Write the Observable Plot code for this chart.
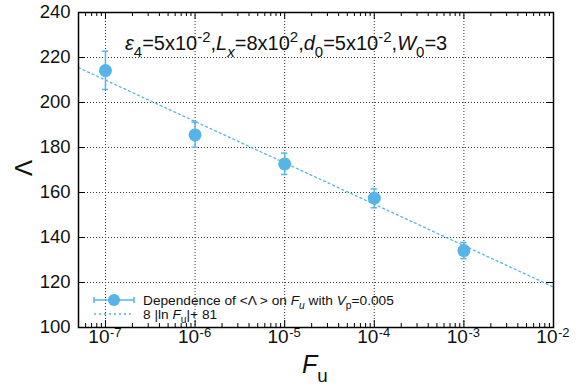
<!DOCTYPE html>
<html>
<head>
<meta charset="utf-8">
<script src="https://cdn.jsdelivr.net/npm/d3@7"></script>
<script src="https://cdn.jsdelivr.net/npm/@observablehq/plot@0.6"></script>
<style>
  html, body { margin: 0; padding: 0; background: white; }
  #chart { width: 582px; height: 387px; }
</style>
</head>
<body>
<div id="chart"></div>
<script>
// ---- data ----
const Fu = [1e-7, 1e-6, 1e-5, 1e-4, 1e-3];
const lambdaMean = [214.2, 185.6, 172.7, 157.5, 134.2];
const lambdaLow = [205.8, 180.1, 168.0, 153.2, 130.6];
const lambdaHigh = [222.8, 191.3, 177.5, 161.6, 137.8];
// fitted line 8|ln Fu| + 81, endpoints
const fitFu = [5e-8, 1e-2];
const fitLambda = [215.5, 118.0];
// axis ticks
const xMajor = [1e-7, 1e-6, 1e-5, 1e-4, 1e-3, 1e-2];
const xExp = ["-7", "-6", "-5", "-4", "-3", "-2"];
const yTicks = [100, 120, 140, 160, 180, 200, 220, 240];

const blue = "#56b4e9";
const data = Fu.map((f, i) => ({Fu: f, y: lambdaMean[i], lo: lambdaLow[i], hi: lambdaHigh[i]}));
const fit = fitFu.map((f, i) => ({Fu: f, y: fitLambda[i]}));
const xMinor = [];
for (let e = -8; e < -2; e++) for (let m = 2; m <= 9; m++) {
  const v = m * Math.pow(10, e);
  if (v >= 5e-8 && v <= 1e-2) xMinor.push(v);
}
const xTickData = xMajor.map((v, i) => ({v, e: xExp[i]}));

const W = 582, H = 387, mL = 78, mR = 29, mT = 12, mB = 60;
const fw = W - mL - mR, fh = H - mT - mB;
const capF = Math.pow(10, 0.035);
const FONT = "'Liberation Sans', Arial, sans-serif";

const plot = Plot.plot({
  width: W, height: H,
  marginLeft: mL, marginRight: mR, marginTop: mT, marginBottom: mB,
  style: {fontFamily: FONT, background: "white", color: "black"},
  x: {type: "log", domain: [5e-8, 1e-2], axis: null},
  y: {domain: [100, 240], axis: null},
  marks: [
    // grid
    Plot.ruleX(xMajor.filter(v => v < 1e-2), {x: d => d, stroke: "#333", strokeWidth: 1, strokeDasharray: "1,2"}),
    Plot.ruleY(yTicks.filter(v => v > 100 && v < 240), {y: d => d, stroke: "#333", strokeWidth: 1, strokeDasharray: "1,2"}),
    // ticks inward: bottom & top
    Plot.ruleX(xMajor, {x: d => d, insetTop: fh - 7, stroke: "black"}),
    Plot.ruleX(xMajor, {x: d => d, insetBottom: fh - 7, stroke: "black"}),
    Plot.ruleX(xMinor, {x: d => d, insetTop: fh - 4, stroke: "black"}),
    Plot.ruleX(xMinor, {x: d => d, insetBottom: fh - 4, stroke: "black"}),
    // ticks inward: left & right
    Plot.ruleY(yTicks, {y: d => d, insetRight: fw - 7, stroke: "black"}),
    Plot.ruleY(yTicks, {y: d => d, insetLeft: fw - 7, stroke: "black"}),
    // fit line
    Plot.line(fit, {x: "Fu", y: "y", stroke: blue, strokeWidth: 1.3, strokeDasharray: "2,3"}),
    // error bars
    Plot.ruleX(data, {x: "Fu", y1: "lo", y2: "hi", stroke: blue, strokeWidth: 1.5}),
    Plot.ruleY(data, {y: "lo", x1: d => d.Fu / capF, x2: d => d.Fu * capF, stroke: blue, strokeWidth: 1.5}),
    Plot.ruleY(data, {y: "hi", x1: d => d.Fu / capF, x2: d => d.Fu * capF, stroke: blue, strokeWidth: 1.5}),
    Plot.dot(data, {x: "Fu", y: "y", r: 6.5, fill: blue, stroke: "none"}),
    // frame
    Plot.frame({stroke: "black", strokeWidth: 1.5}),
    // tick labels
    Plot.text(yTicks, {y: d => d, text: d => String(d), frameAnchor: "left", textAnchor: "end", dx: -8, fontSize: 18.5, fill: "#111"}),
    Plot.text(xTickData, {x: "v", text: () => "10", frameAnchor: "bottom", textAnchor: "end", dx: 4, dy: 15.5, fontSize: 19, fill: "#111"}),
    Plot.text(xTickData, {x: "v", text: "e", frameAnchor: "bottom", textAnchor: "start", dx: 4.5, dy: 9, fontSize: 13, fill: "#111"})
  ]
});
document.getElementById("chart").appendChild(plot);

// rich text helper (sub/superscripts)
const svg = d3.select(plot);
function rich(g, x, y, size, segs) {
  const t = g.append("text").attr("x", x).attr("y", y)
    .attr("font-size", size).attr("fill", "#111").attr("text-anchor", "start")
    .attr("font-family", FONT);
  let shift = 0;
  for (const [s, kind] of segs) {
    const sp = t.append("tspan").text(s);
    let target = 0, fs = size;
    if (kind.includes("sub")) { target = size * 0.34; fs = size * 0.75; }
    if (kind.includes("sup")) { target = -size * 0.4; fs = size * 0.75; }
    sp.attr("dy", target - shift).attr("font-size", fs);
    if (kind.includes("i")) sp.attr("font-style", "italic");
    shift = target;
  }
  return t;
}

const g = svg.append("g").attr("text-anchor", "start");
// annotation
rich(g, 125, 50, 20, [
  ["ε", "i"], ["4", "sub"], ["=5x10", ""], ["-2", "sup"], [",", ""],
  ["L", "i"], ["x", "isub"], ["=8x10", ""], ["2", "sup"], [",", ""],
  ["d", "i"], ["0", "sub"], ["=5x10", ""], ["-2", "sup"], [",", ""],
  ["W", "i"], ["0", "sub"], ["=3", ""]
]);

// legend
const ly1 = 300, ly2 = 314;
g.append("line").attr("x1", 94).attr("x2", 134).attr("y1", ly1).attr("y2", ly1).attr("stroke", blue).attr("stroke-width", 1.5);
g.append("line").attr("x1", 94).attr("x2", 94).attr("y1", ly1 - 3).attr("y2", ly1 + 3).attr("stroke", blue).attr("stroke-width", 1.5);
g.append("line").attr("x1", 134).attr("x2", 134).attr("y1", ly1 - 3).attr("y2", ly1 + 3).attr("stroke", blue).attr("stroke-width", 1.5);
g.append("circle").attr("cx", 114).attr("cy", ly1).attr("r", 6).attr("fill", blue);
g.append("line").attr("x1", 94).attr("x2", 134).attr("y1", ly2).attr("y2", ly2).attr("stroke", blue).attr("stroke-width", 1.3).attr("stroke-dasharray", "2,3");
rich(g, 143, ly1 + 4.5, 13.7, [
  ["Dependence of <Λ > on ", ""], ["F", "i"], ["u", "isub"], [" with ", ""], ["V", "i"], ["p", "sub"], ["=0.005", ""]
]);
rich(g, 143, ly2 + 4.5, 13.7, [
  ["8 |ln ", ""], ["F", "i"], ["u", "sub"], ["|+ 81", ""]
]);

// axis labels
rich(g, 302, 373, 25, [["F", "i"], ["u", "sub"]]);
g.append("text").attr("transform", "translate(32,168) rotate(-90)")
  .attr("text-anchor", "middle").attr("font-size", 24).attr("fill", "#111")
  .attr("font-family", FONT).text("Λ");
</script>
</body>
</html>
